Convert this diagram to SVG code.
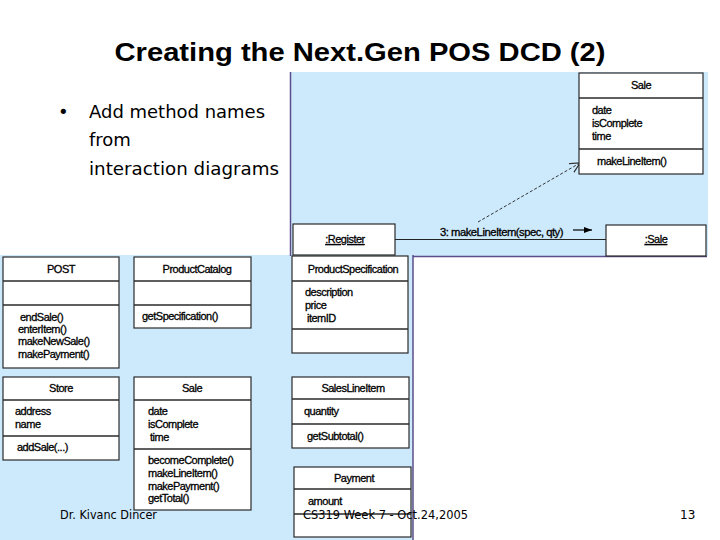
<svg xmlns="http://www.w3.org/2000/svg" width="720" height="540" viewBox="0 0 720 540">
<style>
.bg{fill:#cde9fc}
.box{fill:#fff;stroke:#2a2a2a;stroke-width:1.2}
.div{stroke:#2a2a2a;stroke-width:1.4}
.t{font-family:"Liberation Sans",Arial,sans-serif;font-size:11px;fill:#000;stroke:#000;stroke-width:0.3;letter-spacing:-0.5px}
.c{text-anchor:middle}
.title{font-family:"Liberation Sans",Arial,sans-serif;font-weight:bold;font-size:26px;fill:#000}
.bul{font-family:"DejaVu Sans",sans-serif;font-size:18px;fill:#000}
.ft{font-family:"DejaVu Sans",sans-serif;font-size:12px;fill:#000}
.edge{stroke:#5b4d8a;stroke-width:1.5;fill:none}
</style>
<defs>
<marker id="open" markerWidth="12" markerHeight="12" refX="10" refY="5" orient="auto" markerUnits="userSpaceOnUse">
<path d="M0,0 L10,5 L0,10" fill="none" stroke="#333" stroke-width="1.2"/>
</marker>
<marker id="fill" markerWidth="10" markerHeight="8" refX="8" refY="3" orient="auto" markerUnits="userSpaceOnUse">
<path d="M0,0 L8,3 L0,6 Z" fill="#000"/>
</marker>
</defs>
<rect width="720" height="540" fill="#fff"/>
<text class="title" x="360" y="61" text-anchor="middle" textLength="491" lengthAdjust="spacingAndGlyphs">Creating the Next.Gen POS DCD (2)</text>
<g id="bullet">
<text class="bul" x="58" y="118">•</text>
<text class="bul" x="89" y="118" textLength="176" lengthAdjust="spacingAndGlyphs">Add method names</text>
<text class="bul" x="89" y="146">from</text>
<text class="bul" x="89" y="175" textLength="190" lengthAdjust="spacingAndGlyphs">interaction diagrams</text>
</g>
<!-- blue backgrounds -->
<rect class="bg" x="290" y="72" width="418" height="184"/>
<rect class="bg" x="0" y="255" width="413" height="285"/>
<line class="edge" x1="290.5" y1="72" x2="290.5" y2="256"/>
<line class="edge" x1="413" y1="255" x2="413" y2="540"/>
<line class="edge" x1="413" y1="256.5" x2="707" y2="256.5"/>

<g id="connectors">
<line x1="395" y1="239.5" x2="606" y2="239.5" stroke="#222" stroke-width="1"/>
<line x1="478" y1="222" x2="580" y2="163" stroke="#333" stroke-width="1" stroke-dasharray="3,2" marker-end="url(#open)"/>
<line x1="573" y1="230" x2="592" y2="230" stroke="#000" stroke-width="1.2" marker-end="url(#fill)"/>
<text class="t" x="440" y="236" textLength="123" lengthAdjust="spacingAndGlyphs">3: makeLineItem(spec, qty)</text>
</g>

<g id="sale-top">
<rect class="box" x="579" y="73" width="124" height="101"/>
<line class="div" x1="579" y1="98" x2="703" y2="98"/>
<line class="div" x1="579" y1="149" x2="703" y2="149"/>
<text class="t c" x="641" y="89">Sale</text>
<text class="t" x="592" y="114">date</text>
<text class="t" x="592" y="127">isComplete</text>
<text class="t" x="592" y="140">time</text>
<text class="t" x="597" y="165">makeLineItem()</text>
</g>
<g id="register">
<rect class="box" x="293" y="224" width="102" height="31"/>
<text class="t c" x="345" y="243" text-decoration="underline">:Register</text>
</g>
<g id="sale-obj">
<rect class="box" x="606" y="225" width="100" height="31"/>
<text class="t c" x="656" y="243" text-decoration="underline">:Sale</text>
</g>

<g id="post">
<rect class="box" x="3" y="257" width="116" height="111"/>
<line class="div" x1="3" y1="281" x2="119" y2="281"/>
<line class="div" x1="3" y1="305" x2="119" y2="305"/>
<text class="t c" x="61" y="273">POST</text>
<text class="t" x="20" y="321">endSale()</text>
<text class="t" x="18" y="333">enterItem()</text>
<text class="t" x="18" y="345">makeNewSale()</text>
<text class="t" x="18" y="358">makePayment()</text>
</g>
<g id="productcatalog">
<rect class="box" x="134" y="257" width="117" height="71"/>
<line class="div" x1="134" y1="281" x2="251" y2="281"/>
<line class="div" x1="134" y1="305" x2="251" y2="305"/>
<text class="t c" x="197" y="273">ProductCatalog</text>
<text class="t" x="142" y="320">getSpecification()</text>
</g>
<g id="store">
<rect class="box" x="3" y="377" width="116" height="83"/>
<line class="div" x1="3" y1="400" x2="119" y2="400"/>
<line class="div" x1="3" y1="436" x2="119" y2="436"/>
<text class="t c" x="61" y="392">Store</text>
<text class="t" x="15" y="415">address</text>
<text class="t" x="15" y="428">name</text>
<text class="t" x="17" y="451">addSale(...)</text>
</g>
<g id="sale">
<rect class="box" x="134" y="377" width="117" height="133"/>
<line class="div" x1="134" y1="400" x2="251" y2="400"/>
<line class="div" x1="134" y1="449" x2="251" y2="449"/>
<text class="t c" x="192" y="392">Sale</text>
<text class="t" x="148" y="415">date</text>
<text class="t" x="148" y="428">isComplete</text>
<text class="t" x="150" y="441">time</text>
<text class="t" x="148" y="464">becomeComplete()</text>
<text class="t" x="148" y="477">makeLineItem()</text>
<text class="t" x="148" y="490">makePayment()</text>
<text class="t" x="148" y="502">getTotal()</text>
</g>
<g id="productspecification">
<rect class="box" x="292" y="256" width="116" height="97"/>
<line class="div" x1="292" y1="281" x2="408" y2="281"/>
<line class="div" x1="292" y1="329" x2="408" y2="329"/>
<text class="t c" x="353" y="273">ProductSpecification</text>
<text class="t" x="305" y="296">description</text>
<text class="t" x="305" y="309">price</text>
<text class="t" x="307" y="322">itemID</text>
</g>
<g id="saleslineitem">
<rect class="box" x="292" y="377" width="117" height="71"/>
<line class="div" x1="292" y1="399" x2="409" y2="399"/>
<line class="div" x1="292" y1="424" x2="409" y2="424"/>
<text class="t c" x="353" y="392">SalesLineItem</text>
<text class="t" x="304" y="415">quantity</text>
<text class="t" x="307" y="440">getSubtotal()</text>
</g>
<g id="payment">
<rect class="box" x="294" y="467" width="117" height="70"/>
<line class="div" x1="294" y1="489" x2="411" y2="489"/>
<line class="div" x1="294" y1="514" x2="411" y2="514"/>
<text class="t c" x="354" y="482">Payment</text>
<text class="t" x="308" y="505">amount</text>
</g>

<g id="footer">
<text class="ft" x="60" y="519" textLength="97" lengthAdjust="spacingAndGlyphs">Dr. Kivanc Dincer</text>
<text class="ft" x="303" y="519" textLength="165" lengthAdjust="spacingAndGlyphs">CS319 Week 7 - Oct.24,2005</text>
<text class="ft" x="680" y="519">13</text>
</g>
</svg>
